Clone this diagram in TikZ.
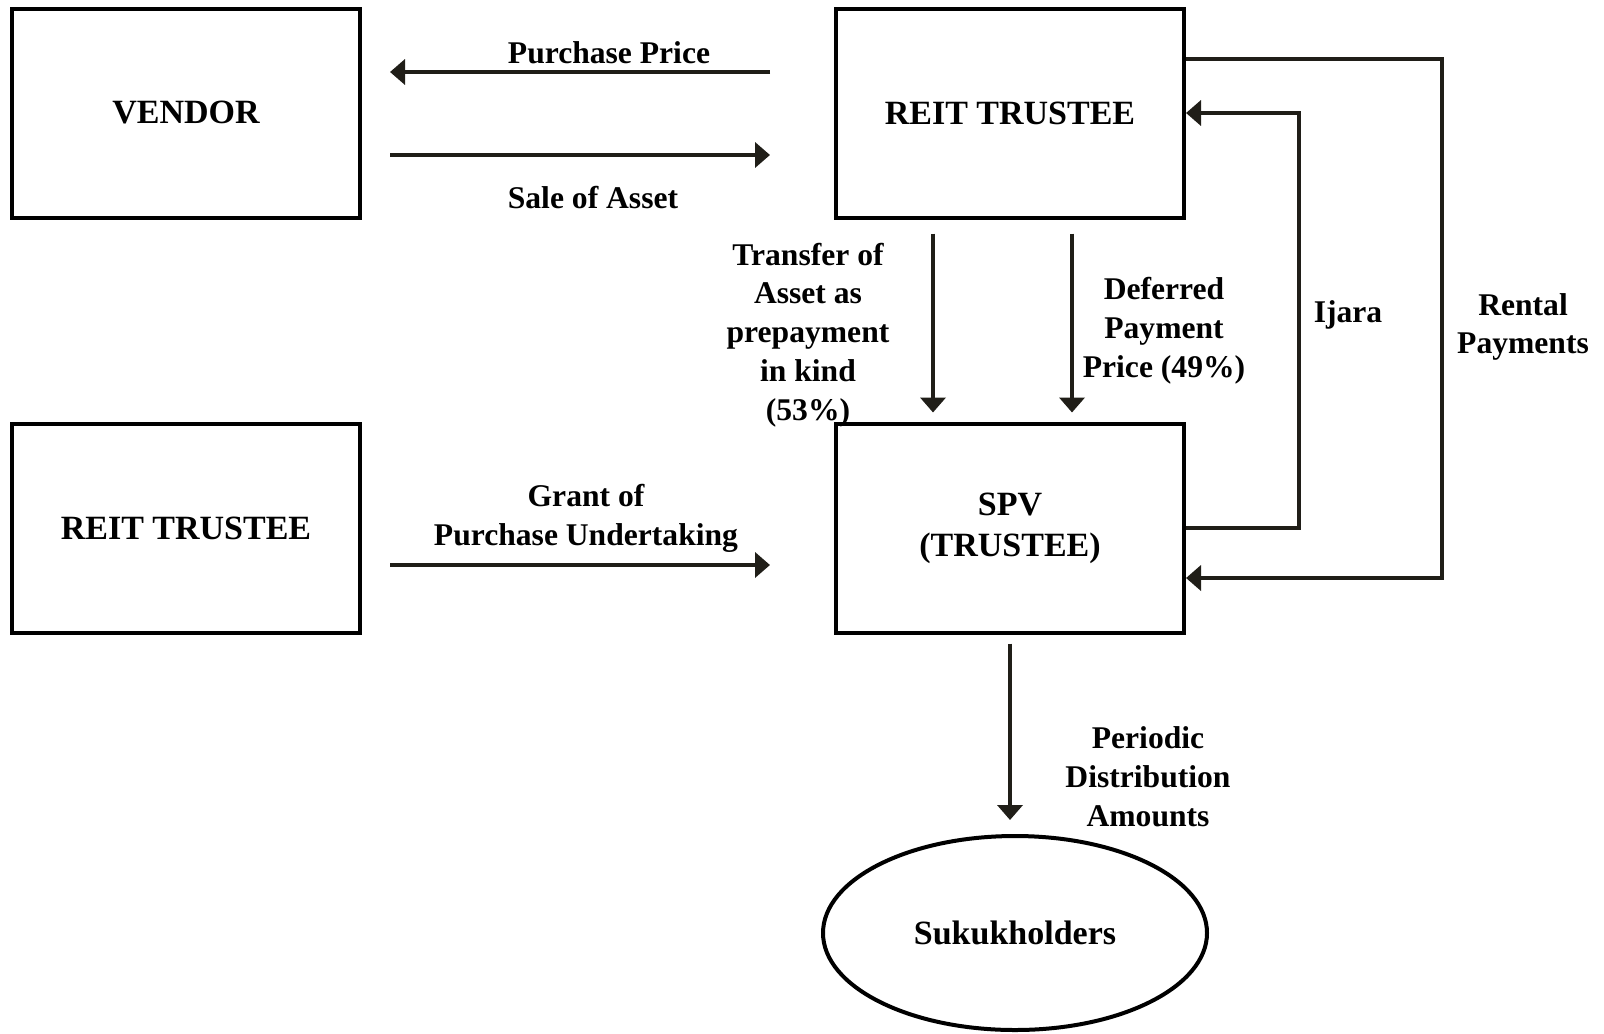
\documentclass[tikz,border=0pt]{standalone}
\usepackage{fontspec}
\setmainfont{Liberation Serif}
\usepackage{tikz}
\usetikzlibrary{shapes,arrows.meta,positioning}
\definecolor{flowline}{RGB}{32,30,24}
\tikzset{
  every node/.style={
    font=\bfseries
  },
  party/.style={
    shape=rectangle,
    draw=black,
    line width=2pt,
    minimum width=174pt,
    minimum height=104.5pt,
    align=center,
    font=\fontsize{17}{20.5}\selectfont\bfseries
  },
  holders/.style={
    shape=ellipse,
    draw=black,
    line width=2pt,
    minimum width=192pt,
    minimum height=97pt,
    font=\fontsize{17}{20.5}\selectfont\bfseries
  },
  flow/.style={
    draw=flowline,
    line width=2pt,
    -{Triangle[length=7.5pt,width=12.5pt]}
  },
  flowtext/.style={
    align=center,
    inner sep=0pt,
    font=\fontsize{15.8}{19.4}\selectfont\bfseries
  }
}

\begin{document}
\begin{tikzpicture}[x=0.5pt,y=-0.5pt]

\useasboundingbox (0,0) rectangle (1604,1033);

% parties
\node [party] (vendor) at (186,113) {VENDOR};
\node [party] (reit) at (1010,113) {REIT TRUSTEE};
\node [party] (reitb) at (186,528) {REIT TRUSTEE};
\node [party] (spv) at (1010,528) {\raisebox{-2pt}{SPV}\\\raisebox{-2pt}{(TRUSTEE)}};
\node [holders] (sukuk) at (1015,933) {\raisebox{-1.5pt}{Sukukholders}};

% sale between vendor and trustee
\draw [flow] ([xshift=-32pt,yshift=20.5pt]reit.west) -- ([xshift=14pt,yshift=20.5pt]vendor.east);
\draw [flow] ([xshift=14pt,yshift=-21pt]vendor.east) -- ([xshift=-32pt,yshift=-21pt]reit.west);
\node [flowtext] (price) at (609,53) {Purchase Price};
\node [flowtext] (sale) at (593,198) {Sale of Asset};

% undertaking
\draw [flow] ([xshift=14pt,yshift=-18.5pt]reitb.east) -- ([xshift=-32pt,yshift=-18.5pt]spv.west);
\node [flowtext] (grant) at (586,518) {Grant of\\Purchase Undertaking};

% trustee to spv
\draw [flow] ([xshift=-38.5pt,yshift=-7pt]reit.south) -- ([xshift=-38.5pt,yshift=4.5pt]spv.north);
\draw [flow] ([xshift=31pt,yshift=-7pt]reit.south) -- ([xshift=31pt,yshift=4.5pt]spv.north);
\node [flowtext] (transfer) at (808,335) {Transfer of\\Asset as\\prepayment\\in kind\\(53\%)};
\node [flowtext] (deferred) at (1164,331) {Deferred\\Payment\\Price (49\%)};

% lease loops
\draw [flow] (spv.east) -- ++(56.5pt,0) |- (reit.east);
\draw [flow] ([yshift=27pt]reit.east) -- ++(128pt,0) |- ([yshift=-25pt]spv.east);
\node [flowtext] (ijara) at (1348,315) {Ijara};
\node [flowtext] (rental) at (1523,327) {Rental\\Payments};

% distribution
\draw [flow] ([yshift=-4.5pt]spv.south) -- ([yshift=7pt]spv.south |- sukuk.north);
\node [flowtext] (periodic) at (1148,777) {Periodic\\Distribution\\Amounts};

\end{tikzpicture}
\end{document}
